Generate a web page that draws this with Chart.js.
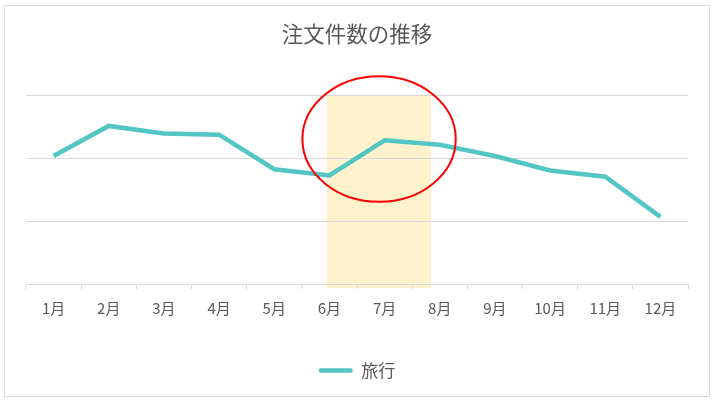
<!DOCTYPE html>
<html>
<head>
<meta charset="utf-8">
<script src="https://cdn.jsdelivr.net/npm/chart.js@4/dist/chart.umd.min.js"></script>
<style>
  html, body { margin: 0; padding: 0; background: #fff; }
  #wrap { width: 715px; height: 403px; position: relative; }
</style>
</head>
<body>
<div id="wrap"><canvas id="c" width="715" height="403"></canvas></div>
<script>
const titleText = '注文件数の推移';
const months = ['1月','2月','3月','4月','5月','6月','7月','8月','9月','10月','11月','12月'];
const seriesName = '旅行';
const travelOrders = [204, 252, 240, 238, 183, 173, 229, 222, 204, 181, 171, 107];
const yMin = 0, yMax = 300, yStep = 100;
// highlight band (category index range) and ellipse annotation (data coordinates)
const highlightRange = [4.955, 6.84];
const ellipseCenter = [5.9, 231];
const ellipseRadii = [1.39, 100];

const FONT = '"Noto Sans CJK JP", "Noto Sans", sans-serif';
const TEXT = '#595959';
const GRID = '#d9d9d9';
const LINE = '#52C5C4';

const frame = {
  id: 'frame',
  beforeDraw(chart) {
    const ctx = chart.ctx;
    ctx.save();
    ctx.fillStyle = '#fff';
    ctx.fillRect(0, 0, chart.width, chart.height);
    ctx.strokeStyle = GRID;
    ctx.lineWidth = 1;
    ctx.strokeRect(4.5, 5.5, 705, 391);
    ctx.restore();
  }
};

const highlight = {
  id: 'highlight',
  beforeDraw(chart) {
    // drawn under grid lines
    const x = chart.scales.x, y = chart.scales.y;
    if (!x || !y) return;
    const ctx = chart.ctx;
    const l = x.getPixelForValue(highlightRange[0]);
    const r = x.getPixelForValue(highlightRange[1]);
    const t = y.getPixelForValue(yMax);
    const b = y.getPixelForValue(yMin) + 4;
    ctx.save();
    ctx.fillStyle = '#FFF2CC';
    ctx.fillRect(l, t, r - l, b - t);
    ctx.restore();
  },
  afterDatasetsDraw(chart) {
    const x = chart.scales.x, y = chart.scales.y;
    const ctx = chart.ctx;
    const cx = x.getPixelForValue(ellipseCenter[0]);
    const cy = y.getPixelForValue(ellipseCenter[1]);
    const rx = x.getPixelForValue(ellipseCenter[0] + ellipseRadii[0]) - cx;
    const ry = cy - y.getPixelForValue(ellipseCenter[1] + ellipseRadii[1]);
    ctx.save();
    ctx.strokeStyle = '#FF0000';
    ctx.lineWidth = 2;
    ctx.beginPath();
    ctx.ellipse(cx, cy, rx, ry, 0, 0, Math.PI * 2);
    ctx.stroke();
    ctx.restore();
  }
};

new Chart(document.getElementById('c'), {
  type: 'line',
  data: {
    labels: months,
    datasets: [{
      label: seriesName,
      data: travelOrders,
      borderColor: LINE,
      backgroundColor: LINE,
      borderWidth: 4.5,
      pointRadius: 0,
      pointHoverRadius: 0,
      tension: 0,
      fill: false
    }]
  },
  options: {
    responsive: false,
    animation: false,
    events: [],
    layout: { padding: { left: 26, right: 27, top: 0, bottom: 14 } },
    plugins: {
      tooltip: { enabled: false },
      title: {
        display: true,
        text: titleText,
        color: TEXT,
        font: { family: FONT, size: 21.5, weight: 'normal' },
        padding: { top: 21, bottom: 49 }
      },
      legend: {
        display: true,
        position: 'bottom',
        labels: {
          color: TEXT,
          font: { family: FONT, size: 17 },
          boxWidth: 34,
          boxHeight: 4.5,
          padding: 10,
          generateLabels(chart) {
            return chart.data.datasets.map((d, i) => ({
              text: d.label,
              fillStyle: d.borderColor,
              strokeStyle: d.borderColor,
              lineWidth: 0,
              fontColor: TEXT,
              borderRadius: 2,
              datasetIndex: i
            }));
          }
        }
      }
    },
    scales: {
      x: {
        offset: true,
        grid: { display: true, offset: true, drawOnChartArea: false, drawTicks: true, tickLength: 5, color: GRID },
        border: { display: true, color: GRID, width: 1 },
        ticks: { color: TEXT, font: { family: FONT, size: 15 }, padding: 10, maxRotation: 0, autoSkip: false },
        afterFit(s) { s.height = 68; }
      },
      y: {
        min: yMin, max: yMax,
        ticks: { display: false, stepSize: yStep },
        grid: { color: GRID, drawTicks: false },
        border: { display: false }
      }
    }
  },
  plugins: [frame, highlight]
});
</script>
</body>
</html>
